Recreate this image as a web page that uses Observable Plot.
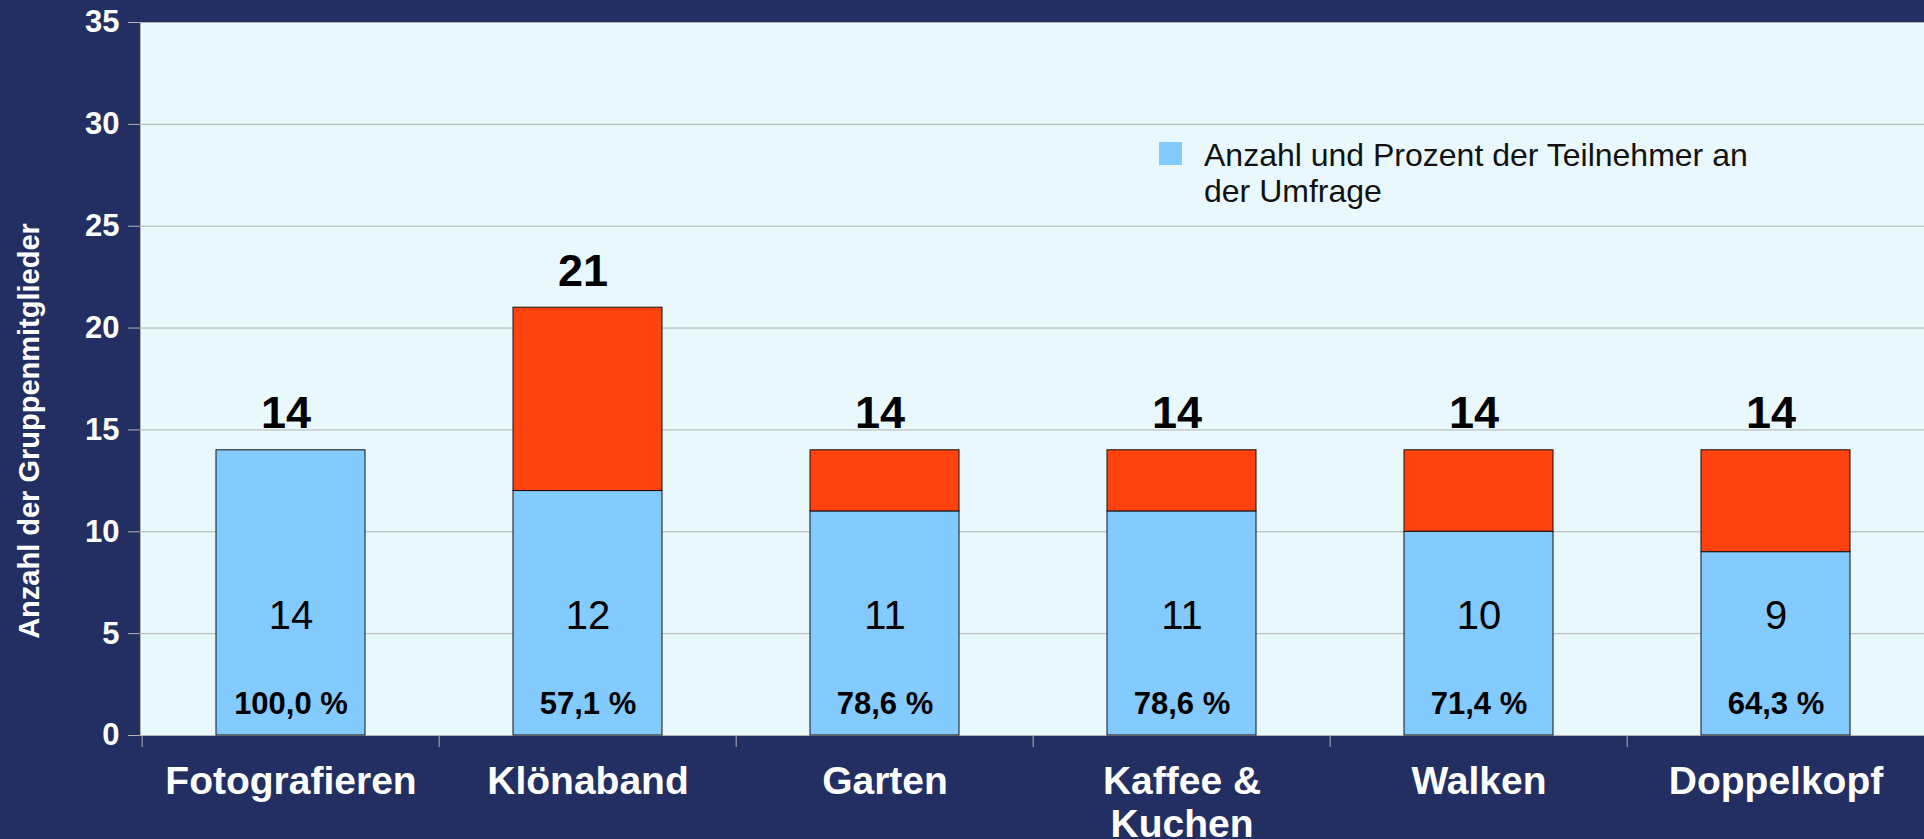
<!DOCTYPE html>
<html><head><meta charset="utf-8">
<script src="https://cdn.jsdelivr.net/npm/d3@7"></script>
<script src="https://cdn.jsdelivr.net/npm/@observablehq/plot@0.6"></script>
<style>
html,body{margin:0;padding:0;background:#232e62;}
#wrap{position:relative;width:1924px;height:839px;overflow:hidden;}
#legend{position:absolute;left:1159px;top:137px;font-family:"Liberation Sans",Arial,sans-serif;font-size:32px;line-height:36px;color:#111;}
#legend .sw{position:absolute;left:0;top:5px;width:23px;height:23px;background:#83caff;}
#legend .tx{position:absolute;left:45px;top:0;white-space:nowrap;}
</style></head>
<body><div id="wrap"></div>
<script>
const categories = ["Fotografieren","Klönaband","Garten","Kaffee & Kuchen","Walken","Doppelkopf"];
const tickLabels = ["Fotografieren","Klönaband","Garten","Kaffee &\nKuchen","Walken","Doppelkopf"];
const participants = [14,12,11,11,10,9];
const nonParticipants = [0,9,3,3,4,5];
const totals = [14,21,14,14,14,14];
const percentLabels = ["100,0 %","57,1 %","78,6 %","78,6 %","71,4 %","64,3 %"];
const yTicks = [0,5,10,15,20,25,30,35];
const seriesNames = ["Anzahl und Prozent der Teilnehmer an der Umfrage","Nicht teilgenommen"];
const seriesColors = ["#83caff","#ff420e"];
const yLabel = "Anzahl der Gruppenmitglieder";
const legendLines = ["Anzahl und Prozent der Teilnehmer an","der Umfrage"];

const W = 1924, H = 839, mL = 140, mR = -2, mT = 22, mB = 104;
const step = (W - mL - mR) / categories.length;

const barData = categories.flatMap((c, i) => [
  {cat: c, series: seriesNames[0], value: participants[i]},
  {cat: c, series: seriesNames[1], value: nonParticipants[i]}
]);
const rows = categories.map((c, i) => ({cat: c, total: totals[i], part: participants[i], pct: percentLabels[i]}));
const FONT = '"Liberation Sans", Arial, sans-serif';

const chart = Plot.plot({
  width: W, height: H,
  marginLeft: mL, marginRight: mR, marginTop: mT, marginBottom: mB,
  style: {background: "#232e62", fontFamily: FONT, color: "white", overflow: "visible"},
  x: {domain: categories, paddingInner: 0.5, paddingOuter: 0.25, label: null},
  y: {domain: [0, 35], label: null},
  color: {domain: seriesNames, range: seriesColors},
  marks: [
    Plot.frame({fill: "#e8f8fc", stroke: "#b3b3b3"}),
    Plot.gridY(yTicks, {stroke: "#b3b3b3", strokeOpacity: 1}),
    Plot.axisY(yTicks, {tickSize: 12, tickPadding: 9, stroke: "#b3b3b3", fill: "white", fontSize: 31, fontWeight: "bold", label: null}),
    Plot.axisX({tickSize: 12, dx: -step / 2, tickFormat: () => "", stroke: "#b3b3b3", label: null}),
    Plot.axisX({tickSize: 0, tickPadding: 27, tickFormat: d => tickLabels[categories.indexOf(d)], fill: "white", fontSize: 39, fontWeight: "bold", lineHeight: 1.12, label: null}),
    Plot.barY(barData, {x: "cat", y: "value", fill: "series", stroke: "#111", strokeWidth: 1}),
    Plot.text(rows, {x: "cat", y: "total", text: d => String(d.total), lineAnchor: "bottom", dx: -5, dy: -22, fontSize: 45, fontWeight: "bold", fill: "black"}),
    Plot.text(rows, {x: "cat", frameAnchor: "bottom", text: d => String(d.part), lineAnchor: "bottom", dy: -107, fontSize: 40, fill: "black"}),
    Plot.text(rows, {x: "cat", frameAnchor: "bottom", text: "pct", lineAnchor: "bottom", dy: -22, fontSize: 31, fontWeight: "bold", fill: "black"}),
    Plot.text([yLabel], {frameAnchor: "left", textAnchor: "middle", text: d => d, rotate: -90, dx: -111, dy: 52, fontSize: 29, fontWeight: "bold", fill: "white"})
  ]
});

const wrap = document.getElementById("wrap");
wrap.appendChild(chart);
const lg = document.createElement("div");
lg.id = "legend";
lg.innerHTML = `<div class="sw"></div><div class="tx">${legendLines.join("<br>")}</div>`;
wrap.appendChild(lg);
</script>
</body></html>
